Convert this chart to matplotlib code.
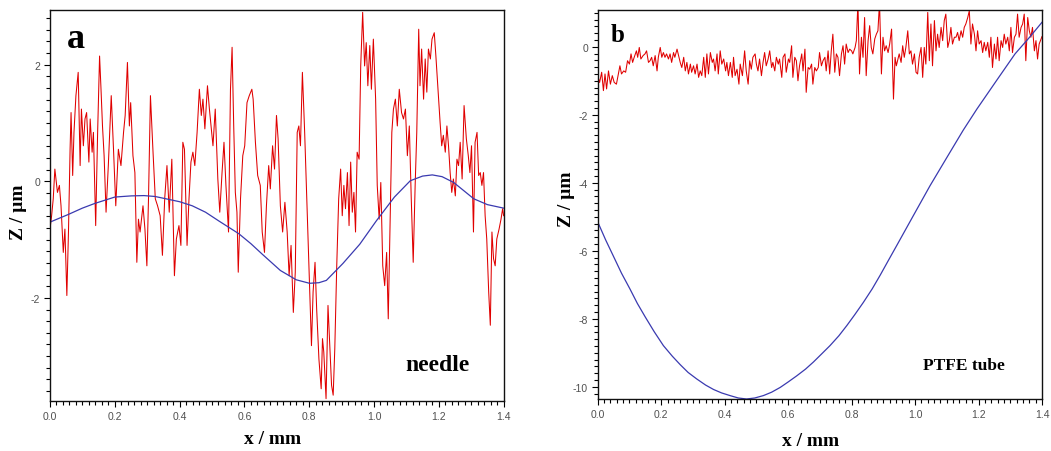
import matplotlib
matplotlib.use("Agg")
import matplotlib.pyplot as plt
from matplotlib.ticker import MultipleLocator, FormatStrFormatter, FuncFormatter

plt.rcParams['axes.unicode_minus'] = False

# ---------------- Panel a (needle) ----------------
a_red_x = [0.000, 0.005, 0.010, 0.015, 0.023, 0.029, 0.034, 0.041, 0.046, 0.052,
           0.057, 0.062, 0.065, 0.070, 0.074, 0.080, 0.087, 0.093, 0.097, 0.103,
           0.108, 0.113, 0.120, 0.124, 0.130, 0.134, 0.141, 0.147, 0.153, 0.157,
           0.162, 0.167, 0.173, 0.180, 0.189, 0.196, 0.203, 0.211, 0.219, 0.227,
           0.232, 0.239, 0.245, 0.249, 0.256, 0.262, 0.268, 0.273, 0.278, 0.287,
           0.293, 0.299, 0.304, 0.310, 0.318, 0.325, 0.332, 0.340, 0.347, 0.354,
           0.361, 0.368, 0.376, 0.384, 0.390, 0.398, 0.404, 0.410, 0.415, 0.423,
           0.429, 0.435, 0.441, 0.447, 0.454, 0.461, 0.467, 0.472, 0.478, 0.486,
           0.492, 0.497, 0.503, 0.510, 0.518, 0.524, 0.531, 0.537, 0.543, 0.551,
           0.557, 0.562, 0.567, 0.572, 0.577, 0.581, 0.588, 0.595, 0.601, 0.608,
           0.615, 0.623, 0.627, 0.634, 0.641, 0.649, 0.655, 0.662, 0.668, 0.675,
           0.680, 0.687, 0.693, 0.699, 0.704, 0.711, 0.718, 0.725, 0.732, 0.738,
           0.744, 0.751, 0.757, 0.763, 0.768, 0.773, 0.779, 0.786, 0.792, 0.799,
           0.807, 0.812, 0.818, 0.823, 0.830, 0.837, 0.841, 0.845, 0.852, 0.858,
           0.864, 0.869, 0.874, 0.879, 0.885, 0.891, 0.897, 0.902, 0.907, 0.912,
           0.918, 0.923, 0.928, 0.933, 0.938, 0.943, 0.948, 0.954, 0.959, 0.965,
           0.971, 0.976, 0.981, 0.987, 0.992, 0.998, 1.005, 1.010, 1.016, 1.021,
           1.027, 1.033, 1.039, 1.044, 1.049, 1.055, 1.060, 1.066, 1.072, 1.078,
           1.085, 1.091, 1.097, 1.103, 1.109, 1.115, 1.121, 1.127, 1.132, 1.138,
           1.142, 1.147, 1.153, 1.158, 1.163, 1.168, 1.174, 1.179, 1.186, 1.191,
           1.198, 1.204, 1.209, 1.214, 1.220, 1.225, 1.230, 1.235, 1.240, 1.245,
           1.251, 1.256, 1.261, 1.266, 1.272, 1.278, 1.285, 1.291, 1.296, 1.301,
           1.307, 1.312, 1.318, 1.323, 1.328, 1.333, 1.338, 1.343, 1.348, 1.354,
           1.359, 1.364, 1.369, 1.374, 1.379, 1.386, 1.392, 1.397, 1.400]
a_red_z = [-0.82, -0.59, -0.30, 0.21, -0.19, -0.07, -0.42, -1.22, -0.82, -1.96,
           -0.87, 0.55, 1.18, 0.10, 0.84, 1.47, 1.87, 0.27, 1.24, 0.61,
           1.07, 1.18, 0.33, 1.07, 0.50, 0.84, -0.76, 0.84, 2.15, 1.64,
           0.95, 0.44, -0.53, 0.27, 1.47, 0.55, -0.42, 0.55, 0.27, 0.84,
           1.13, 2.04, 0.95, 1.35, 0.44, 0.15, -1.39, -0.65, -0.87, -0.42,
           -0.82, -1.45, -0.30, 1.47, 0.50, -0.30, -0.42, -0.59, -1.27, -0.30,
           0.27, -0.53, 0.38, -1.62, -0.99, -0.76, -1.10, 0.67, 0.55, -1.10,
           -0.30, 0.33, 0.50, 0.27, 0.84, 1.58, 1.13, 1.41, 0.90, 1.64,
           1.24, 0.95, 0.61, 1.24, 0.04, -0.53, 0.15, 0.67, -0.07, -0.87,
           1.58, 2.30, 0.95, -0.19, -0.53, -1.56, -0.30, 0.44, 0.61, 1.35,
           1.47, 1.58, 1.41, 0.67, 0.10, -0.07, -0.87, -1.22, -0.42, 0.27,
           -0.13, 0.61, 0.21, 1.13, 0.73, -0.42, -0.87, -0.36, -0.87, -1.62,
           -1.10, -2.25, -1.56, 0.84, 0.95, 0.61, 1.87, 0.84, -0.19, -1.45,
           -2.82, -1.90, -1.39, -2.19, -3.05, -3.56, -2.70, -2.93, -3.73, -2.13,
           -2.87, -3.50, -3.67, -2.87, -1.45, -0.30, 0.21, -0.59, -0.07, -0.47,
           0.15, -0.76, 0.33, -0.53, -0.19, -0.87, 0.50, 0.38, 1.98, 2.90,
           1.98, 2.38, 1.64, 2.33, 1.58, 2.44, 1.41, -0.07, -0.65, -0.02,
           -1.45, -1.79, -1.22, -2.36, -0.87, 0.84, 1.24, 1.41, 0.95, 1.58,
           1.18, 1.07, 1.24, 0.44, 0.95, -0.30, -1.39, -0.07, 0.84, 2.61,
           1.64, 2.27, 1.41, 2.10, 1.53, 2.27, 2.10, 2.44, 2.55, 2.15,
           1.53, 1.01, 0.61, 0.79, 0.50, 0.95, 0.61, 0.15, -0.19, 0.04,
           -0.25, 0.38, 0.27, 0.67, 0.04, 1.30, 0.73, 0.44, 0.15, 0.61,
           -0.87, 0.67, 0.84, 0.10, 0.15, -0.07, 0.15, -0.59, -0.99, -1.90,
           -2.47, -0.87, -1.33, -1.45, -0.99, -0.82, -0.65, -0.47, -0.59]

a_blue_x = [0.000, 0.056, 0.100, 0.138, 0.200, 0.251, 0.290, 0.324, 0.358, 0.400,
            0.439, 0.480, 0.521, 0.583, 0.620, 0.655, 0.711, 0.760, 0.801, 0.830,
            0.853, 0.904, 0.956, 1.007, 1.063, 1.112, 1.150, 1.180, 1.210, 1.246,
            1.308, 1.350, 1.400]
a_blue_z = [-0.70, -0.57, -0.46, -0.38, -0.27, -0.25, -0.245, -0.26, -0.30, -0.35,
            -0.42, -0.53, -0.68, -0.90, -1.07, -1.25, -1.53, -1.69, -1.75, -1.74,
            -1.70, -1.41, -1.08, -0.68, -0.27, 0.01, 0.09, 0.11, 0.08, -0.02,
            -0.30, -0.40, -0.46]

# ---------------- Panel b (PTFE tube) ----------------
b_red_x = [0.000, 0.006, 0.0125, 0.018, 0.023, 0.028, 0.034, 0.040, 0.046, 0.052,
           0.059, 0.065, 0.070, 0.075, 0.082, 0.088, 0.094, 0.100, 0.105, 0.110,
           0.115, 0.122, 0.126, 0.131, 0.136, 0.143, 0.149, 0.154, 0.160, 0.165,
           0.170, 0.175, 0.181, 0.187, 0.191, 0.197, 0.202, 0.207, 0.212, 0.217,
           0.223, 0.228, 0.233, 0.239, 0.243, 0.250, 0.256, 0.260, 0.265, 0.271,
           0.276, 0.281, 0.286, 0.292, 0.296, 0.302, 0.307, 0.313, 0.318, 0.323,
           0.328, 0.334, 0.339, 0.344, 0.349, 0.355, 0.361, 0.365, 0.370, 0.376,
           0.380, 0.386, 0.391, 0.397, 0.403, 0.407, 0.412, 0.418, 0.424, 0.428,
           0.433, 0.439, 0.445, 0.449, 0.456,
           0.463, 0.468, 0.474, 0.479, 0.484, 0.489, 0.496, 0.500, 0.505, 0.510,
           0.516, 0.521, 0.526, 0.531, 0.537, 0.542, 0.548, 0.552, 0.558, 0.563,
           0.569, 0.573, 0.580, 0.584, 0.590, 0.594, 0.601, 0.605, 0.611, 0.615,
           0.621, 0.626, 0.631, 0.636, 0.643, 0.647, 0.653, 0.657, 0.663, 0.668,
           0.674, 0.678, 0.684, 0.689, 0.695, 0.699, 0.705, 0.710, 0.716, 0.720,
           0.726, 0.731, 0.736, 0.741, 0.747, 0.752, 0.757, 0.762, 0.768, 0.773,
           0.778, 0.783, 0.789, 0.794, 0.800, 0.804, 0.811, 0.815, 0.820, 0.825,
           0.831, 0.836, 0.841, 0.846, 0.852, 0.857, 0.862, 0.867, 0.873, 0.878,
           0.883, 0.888, 0.894, 0.899, 0.904, 0.909, 0.915, 0.920,
           0.926, 0.932, 0.937, 0.941, 0.945, 0.950, 0.956, 0.961, 0.966, 0.971,
           0.977, 0.982, 0.987, 0.992, 0.998, 1.003, 1.008, 1.013, 1.019, 1.024,
           1.029, 1.034, 1.040, 1.045, 1.050, 1.055, 1.061, 1.066, 1.071, 1.076,
           1.082, 1.087, 1.092, 1.097, 1.103, 1.108, 1.113, 1.118, 1.124, 1.129,
           1.134, 1.139, 1.145, 1.150, 1.155, 1.160, 1.166, 1.171, 1.176, 1.181,
           1.187, 1.192, 1.197, 1.202, 1.208, 1.213, 1.218, 1.223, 1.229, 1.234,
           1.239, 1.244, 1.250, 1.255, 1.260, 1.265, 1.271, 1.276, 1.281, 1.286,
           1.292, 1.297, 1.302, 1.307, 1.313, 1.318, 1.323, 1.328, 1.334, 1.339,
           1.344, 1.349, 1.355, 1.360, 1.365, 1.370, 1.376, 1.381, 1.386, 1.391,
           1.397, 1.400]
b_red_z = [-0.85, -1.05, -0.75, -1.29, -0.80, -1.24, -0.71, -1.10, -0.85, -1.05,
           -1.10, -0.80, -0.56, -0.80, -0.71, -0.75, -0.41, -0.51, -0.21, -0.46,
           -0.31, -0.12, -0.31, -0.02, -0.36, -0.26, -0.21, -0.12, -0.46, -0.41,
           -0.31, -0.56, -0.26, -0.71, -0.31, -0.02, -0.31, -0.17, -0.31, -0.21,
           -0.36, -0.21, -0.46, -0.17, -0.31, -0.07, -0.31, -0.46, -0.61, -0.31,
           -0.71, -0.46, -0.80, -0.51, -0.75, -0.56, -0.80, -0.51, -0.90, -0.71,
           -0.85, -0.31, -0.90, -0.21, -0.80, -0.17, -0.46, -0.36, -0.71, -0.21,
           -0.80, -0.12, -0.51, -0.36, -0.71, -0.46, -0.85, -0.46, -0.90, -0.31,
           -0.85, -0.66, -1.10, -0.51, -0.85,
           -0.12, -0.71, -1.10, -0.41, -0.66, -0.31, -0.21, -0.51, -0.71, -0.36,
           -0.85, -0.46, -0.17, -0.56, -0.36, -0.12, -0.61, -0.46, -0.71, -0.31,
           -0.51, -0.36, -0.90, -0.31, -0.21, -0.75, -0.36, -0.46, 0.03, -0.90,
           -0.31, -0.41, -1.00, -0.56, -0.21, -0.71, -0.07, -1.34, -0.61, -0.66,
           -0.51, -1.10, -0.61, -0.71, -0.61, -0.17, -0.56, -0.41, -0.31, -0.71,
           -0.12, -0.80, -0.12, 0.37, -0.75, -0.21, -0.31, -0.85, -0.21, 0.03,
           -0.51, 0.08, -0.17, -0.07, -0.12, -0.21, -0.02, 0.18, 1.30, -0.80,
           0.28, -0.31, 0.86, -0.85, 0.18, 0.62, -0.02, -0.21, 0.23, 0.37,
           0.47, 1.30, -0.80, 0.28, -0.12, 0.03, -0.17, 0.08,
           0.52, -1.54, -0.31, -0.56, -0.41, -0.21, -0.46, 0.03, -0.31, -0.02,
           0.47, -0.21, -0.12, -0.51, -0.21, -0.75, -0.80, -0.31, -0.02, -0.90,
           -0.02, -0.51, 1.01, -0.41, 0.67, -0.56, 0.77, -0.12, 0.37, -0.02,
           0.57, 0.18, 0.77, 0.96, -0.02, 0.18, 0.57, 0.08, 0.28, 0.28,
           0.42, 0.18, 0.47, 0.28, 0.57, 0.67, 0.86, 1.06, 0.08, 0.67,
           0.37, -0.12, 0.47, 0.08, 0.18, -0.17, 0.13, -0.12, 0.13, -0.31,
           0.28, -0.61, 0.08, -0.36, 0.28, -0.41, 0.18, -0.02, 0.37, 0.08,
           0.28, -0.12, 0.57, -0.17, 0.28, 0.37, 0.96, 0.28, 0.57, 0.67,
           0.96, -0.41, 0.86, 0.47, 0.28, 0.57, -0.12, 0.18, -0.36, 0.08,
           0.23, 0.30]

b_blue_x = [0.000, 0.025, 0.049, 0.075, 0.102, 0.125, 0.150, 0.178, 0.207, 0.235,
            0.260, 0.285, 0.312, 0.340, 0.365, 0.390, 0.417, 0.443, 0.469, 0.495,
            0.522, 0.548, 0.575, 0.600, 0.627, 0.655, 0.680, 0.705, 0.732, 0.760,
            0.785, 0.810, 0.837, 0.865, 0.890, 0.915, 0.942, 0.995, 1.047, 1.100,
            1.152, 1.195, 1.257, 1.315, 1.360, 1.400]
b_blue_z = [-5.15, -5.68, -6.15, -6.66, -7.13, -7.55, -7.95, -8.38, -8.79, -9.10,
            -9.35, -9.58, -9.77, -9.95, -10.08, -10.18, -10.26, -10.33, -10.36, -10.33,
            -10.26, -10.16, -10.02, -9.86, -9.68, -9.48, -9.27, -9.04, -8.79, -8.50,
            -8.20, -7.88, -7.52, -7.12, -6.72, -6.30, -5.85, -4.96, -4.09, -3.26,
            -2.45, -1.83, -0.99, -0.21, 0.27, 0.72]

x_ticks = [0.0, 0.2, 0.4, 0.6, 0.8, 1.0, 1.2, 1.4]

RED = '#e00000'
BLUE = '#3a3ab0'
TICKC = '#505050'
SERIF = ['Liberation Serif', 'DejaVu Serif']
SANS = ['Liberation Sans', 'DejaVu Sans']

fig = plt.figure(figsize=(10.51, 4.52), dpi=100)
ax_a = fig.add_axes([50/1051, 1-402/452, 453.6/1051, 391/452])
ax_b = fig.add_axes([597.7/1051, 1-400/452, 444.3/1051, 389.3/452])


def style(ax, ylim, ymajor):
    ax.set_xlim(0, 1.4)
    ax.set_ylim(*ylim)
    ax.set_xticks(x_ticks)
    ax.xaxis.set_minor_locator(MultipleLocator(0.02))
    ax.yaxis.set_major_locator(MultipleLocator(ymajor))
    ax.yaxis.set_minor_locator(MultipleLocator(0.2))
    ax.xaxis.set_major_formatter(FormatStrFormatter('%.1f'))
    ax.yaxis.set_major_formatter(FuncFormatter(lambda v, p: '%d' % round(v)))
    ax.tick_params(which='both', direction='out', top=False, right=False,
                   colors='black', labelcolor=TICKC, labelsize=7.5, width=0.8)
    ax.tick_params(which='major', length=4.5, pad=2.5)
    ax.tick_params(which='minor', length=3.0)
    for lab in ax.get_xticklabels() + ax.get_yticklabels():
        lab.set_fontfamily(SANS)
    for s in ax.spines.values():
        s.set_linewidth(1.0)
        s.set_color('#111111')


style(ax_a, (-3.77, 2.94), 2)
style(ax_b, (-10.36, 1.09), 2)

ax_a.plot(a_red_x, a_red_z, color=RED, lw=0.75)
ax_a.plot(a_blue_x, a_blue_z, color=BLUE, lw=0.9)
ax_b.plot(b_red_x, b_red_z, color=RED, lw=0.75)
ax_b.plot(b_blue_x, b_blue_z, color=BLUE, lw=0.9)

for ax, xl, yl in [(ax_a, (0.49, -0.095), (-0.0705, 0.486)),
                   (ax_b, (0.478, -0.107), (-0.0698, 0.516))]:
    ax.set_xlabel('x / mm', fontfamily=SERIF, fontweight='bold', fontsize=14)
    ax.set_ylabel('Z / µm', fontfamily=SERIF, fontweight='bold', fontsize=14)
    ax.xaxis.label.set_va('center')
    ax.yaxis.label.set_va('center')
    ax.xaxis.set_label_coords(*xl)
    ax.yaxis.set_label_coords(*yl)

ax_a.text(0.037, 0.905, 'a', transform=ax_a.transAxes, fontfamily=SERIF,
          fontweight='bold', fontsize=26, va='baseline', ha='left')
ax_b.text(0.030, 0.92, 'b', transform=ax_b.transAxes, fontfamily=SERIF,
          fontweight='bold', fontsize=18, va='baseline', ha='left')
ax_a.text(0.783, 0.079, 'needle', transform=ax_a.transAxes, fontfamily=SERIF,
          fontweight='bold', fontsize=17, va='baseline', ha='left')
ax_b.text(0.732, 0.077, 'PTFE tube', transform=ax_b.transAxes, fontfamily=SERIF,
          fontweight='bold', fontsize=12.5, va='baseline', ha='left')

fig.savefig('out.png', dpi=100)
